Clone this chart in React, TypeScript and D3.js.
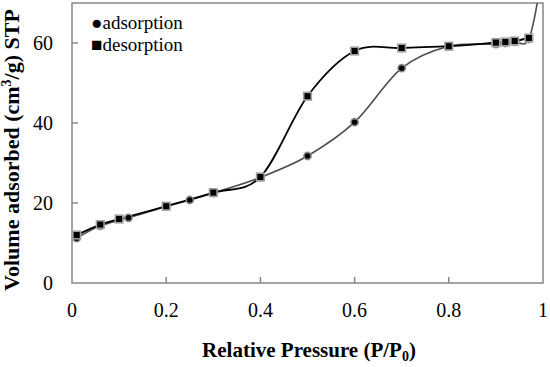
import React, { useEffect, useRef } from "react";
import * as d3 from "d3";

// relative pressure / volume adsorbed
const adsP = [0.01, 0.06, 0.12, 0.2, 0.25, 0.3, 0.4, 0.5, 0.6, 0.7, 0.8, 0.9, 0.92, 0.94, 0.97, 0.995];
const adsV = [11.2, 14.3, 16.3, 19.1, 20.75, 22.5, 26.4, 31.75, 40.2, 53.7, 59.2, 59.7, 60.0, 60.3, 61.0, 75];
const desP = [0.97, 0.94, 0.92, 0.9, 0.8, 0.7, 0.6, 0.5, 0.4, 0.3, 0.2, 0.1, 0.06, 0.01];
const desV = [61.25, 60.5, 60.25, 60.1, 59.2, 58.75, 58.0, 46.7, 26.5, 22.6, 19.2, 16.0, 14.6, 12.0];
const xTicks = [0, 0.2, 0.4, 0.6, 0.8, 1];
const yTicks = [0, 20, 40, 60];

const W = 550;
const H = 367;
const margin = { top: 3, right: 7, bottom: 84, left: 72 };
const serif = '"Times New Roman", "Liberation Serif", Tinos, serif';

const App = () => {
  const ref = useRef(null);

  useEffect(() => {
    const svg = d3.select(ref.current);
    svg.selectAll("*").remove();

    const x = d3.scaleLinear().domain([0, 1]).range([margin.left, W - margin.right]);
    const y = d3.scaleLinear().domain([0, 70]).range([H - margin.bottom, margin.top]);

    const ads = adsP.map((p, i) => ({ p, v: adsV[i] }));
    const des = desP.map((p, i) => ({ p, v: desV[i] }));

    svg
      .append("clipPath")
      .attr("id", "plot")
      .append("rect")
      .attr("x", x(0))
      .attr("y", y(70))
      .attr("width", x(1) - x(0))
      .attr("height", y(0) - y(70));

    // frame
    svg
      .append("rect")
      .attr("x", x(0))
      .attr("y", y(70))
      .attr("width", x(1) - x(0))
      .attr("height", y(0) - y(70))
      .attr("fill", "none")
      .attr("stroke", "#878787")
      .attr("stroke-width", 1.5);

    // inner ticks
    svg
      .append("g")
      .selectAll("line")
      .data(xTicks.slice(1, -1))
      .join("line")
      .attr("x1", (d) => x(d))
      .attr("x2", (d) => x(d))
      .attr("y1", y(0))
      .attr("y2", y(0) - 6)
      .attr("stroke", "#878787")
      .attr("stroke-width", 1.5);
    svg
      .append("g")
      .selectAll("line")
      .data(yTicks.slice(1))
      .join("line")
      .attr("x1", x(0))
      .attr("x2", x(0) + 6)
      .attr("y1", (d) => y(d))
      .attr("y2", (d) => y(d))
      .attr("stroke", "#878787")
      .attr("stroke-width", 1.5);

    svg
      .append("g")
      .style("font-family", serif)
      .attr("font-size", 20)
      .attr("text-anchor", "middle")
      .selectAll("text")
      .data(xTicks)
      .join("text")
      .attr("x", (d) => x(d))
      .attr("y", y(0) + 34)
      .text((d) => d3.format("")(d));
    svg
      .append("g")
      .style("font-family", serif)
      .attr("font-size", 20)
      .attr("text-anchor", "end")
      .selectAll("text")
      .data(yTicks)
      .join("text")
      .attr("x", x(0) - 19)
      .attr("y", (d) => y(d) + 7)
      .text((d) => d);

    const line = d3
      .line()
      .x((d) => x(d.p))
      .y((d) => y(d.v))
      .curve(d3.curveCardinal.tension(0));

    const g = svg.append("g").attr("clip-path", "url(#plot)");
    g.append("path")
      .datum(ads)
      .attr("fill", "none")
      .attr("stroke", "#4d4d4d")
      .attr("stroke-width", 1.6)
      .attr("d", line);
    g.append("path")
      .datum(des)
      .attr("fill", "none")
      .attr("stroke", "#000")
      .attr("stroke-width", 1.8)
      .attr("d", line);

    g.selectAll("circle")
      .data(ads)
      .join("circle")
      .attr("cx", (d) => x(d.p))
      .attr("cy", (d) => y(d.v))
      .attr("r", 3.6)
      .attr("fill", "#000")
      .attr("stroke", "#8a8a8a")
      .attr("stroke-width", 1.6);
    g.selectAll("rect.m")
      .data(des)
      .join("rect")
      .attr("class", "m")
      .attr("x", (d) => x(d.p) - 3.8)
      .attr("y", (d) => y(d.v) - 3.8)
      .attr("width", 7.6)
      .attr("height", 7.6)
      .attr("fill", "#000")
      .attr("stroke", "#a0a0a0")
      .attr("stroke-width", 1.6);

    // legend
    const leg = svg.append("g").style("font-family", serif).attr("font-size", 19);
    leg.append("text").attr("x", 91).attr("y", 29).text("\u25CFadsorption");
    leg.append("text").attr("x", 91).attr("y", 51).text("\u25A0desorption");

    // axis titles
    const xt = svg
      .append("text")
      .attr("x", 309)
      .attr("y", 357)
      .attr("text-anchor", "middle")
      .style("font-family", serif)
      .attr("font-weight", "bold")
      .attr("font-size", 21);
    xt.append("tspan").text("Relative Pressure (P/P");
    xt.append("tspan").attr("font-size", 14).attr("dy", 4).text("0");
    xt.append("tspan").attr("dy", -4).text(")");

    const yt = svg
      .append("text")
      .attr("transform", `translate(19,150) rotate(-90)`)
      .attr("text-anchor", "middle")
      .style("font-family", serif)
      .attr("font-weight", "bold")
      .attr("font-size", 22);
    yt.append("tspan").text("Volume adsorbed (cm");
    yt.append("tspan").attr("font-size", 14).attr("dy", -8).text("3");
    yt.append("tspan").attr("dy", 8).text("/g) STP");
  }, []);

  return (
    <svg
      ref={ref}
      width={W}
      height={H}
      style={{ position: "absolute", left: 0, top: 0, background: "#fff" }}
    />
  );
};

export default App;
